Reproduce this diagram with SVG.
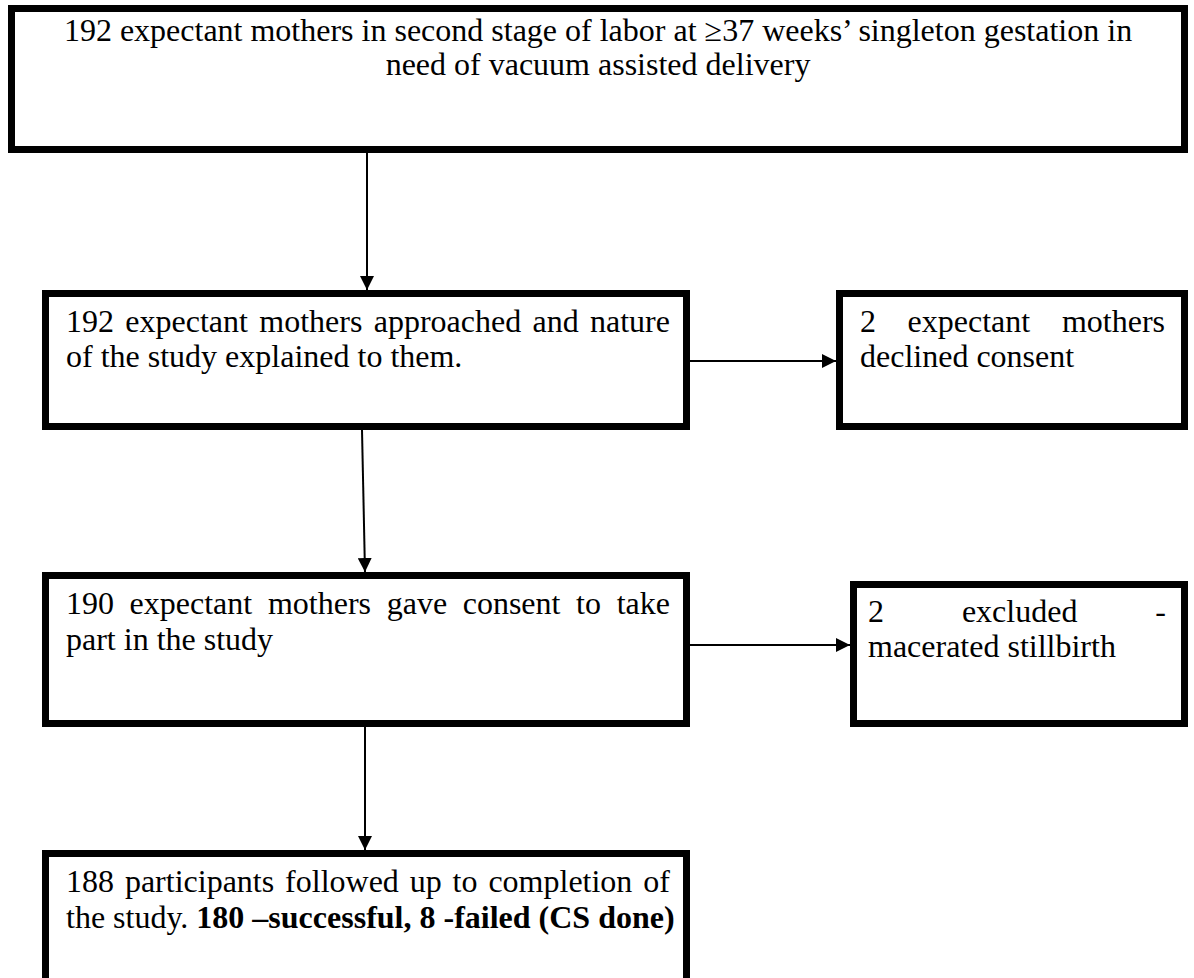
<svg xmlns="http://www.w3.org/2000/svg" width="1194" height="978" viewBox="0 0 1194 978">
<style>
.box{fill:#fff;stroke:#000;stroke-width:7}
.t{font-family:"Liberation Serif","Times New Roman",serif;font-size:32px;fill:#000}
.b{font-weight:bold}
.c{stroke:#000;stroke-width:2;fill:none}
</style>
<defs>
<marker id="ah" viewBox="0 0 10 10" refX="10" refY="5" markerWidth="7" markerHeight="7" markerUnits="strokeWidth" orient="auto">
<path d="M0,0 L10,5 L0,10 Z" fill="#000"/>
</marker>
</defs>
<rect width="1194" height="978" fill="#fff"/>
<g id="connectors">
<line class="c" x1="367" y1="153" x2="367" y2="290" marker-end="url(#ah)"/>
<line class="c" x1="690" y1="361" x2="836" y2="361" marker-end="url(#ah)"/>
<line class="c" x1="362" y1="430" x2="365" y2="572" marker-end="url(#ah)"/>
<line class="c" x1="690" y1="645" x2="850" y2="645" marker-end="url(#ah)"/>
<line class="c" x1="365" y1="726" x2="365" y2="850" marker-end="url(#ah)"/>
</g>
<g id="n1">
<rect class="box" x="11.5" y="8.5" width="1173" height="141"/>
<text class="t" x="598" y="41" text-anchor="middle">192 expectant mothers in second stage of labor at ≥37 weeks’ singleton gestation in</text>
<text class="t" x="598" y="75" text-anchor="middle">need of vacuum assisted delivery</text>
</g>
<g id="n2">
<rect class="box" x="45.5" y="293.5" width="641" height="133"/>
<text class="t" y="332"><tspan x="66">192</tspan><tspan x="125.3">expectant</tspan><tspan x="259.3">mothers</tspan><tspan x="373.7">approached</tspan><tspan x="532.5">and</tspan><tspan x="590">nature</tspan></text>
<text class="t" x="66" y="367">of the study explained to them.</text>
</g>
<g id="n3">
<rect class="box" x="839.5" y="293.5" width="345" height="133"/>
<text class="t" y="332"><tspan x="860">2</tspan><tspan x="907.6">expectant</tspan><tspan x="1061.9">mothers</tspan></text>
<text class="t" x="860" y="367">declined consent</text>
</g>
<g id="n4">
<rect class="box" x="45.5" y="575.5" width="641" height="148"/>
<text class="t" y="614"><tspan x="66">190</tspan><tspan x="129.6">expectant</tspan><tspan x="267.9">mothers</tspan><tspan x="386.7">gave</tspan><tspan x="462.7">consent</tspan><tspan x="576.1">to</tspan><tspan x="616.7">take</tspan></text>
<text class="t" x="66" y="650">part in the study</text>
</g>
<g id="n5">
<rect class="box" x="853.5" y="584.5" width="331" height="139"/>
<text class="t" y="622"><tspan x="868">2</tspan><tspan x="961.9">excluded</tspan><tspan x="1155.3">-</tspan></text>
<text class="t" x="868" y="657">macerated stillbirth</text>
</g>
<g id="n6">
<rect class="box" x="45.5" y="853.5" width="641" height="160"/>
<text class="t" y="892"><tspan x="66">188</tspan><tspan x="124.9">participants</tspan><tspan x="285.1">followed</tspan><tspan x="409.7">up</tspan><tspan x="452.6">to</tspan><tspan x="488.4">completion</tspan><tspan x="643.3">of</tspan></text>
<text class="t" x="66" y="928">the study. <tspan class="b">180 –successful, 8 -failed (CS done)</tspan></text>
</g>
</svg>
